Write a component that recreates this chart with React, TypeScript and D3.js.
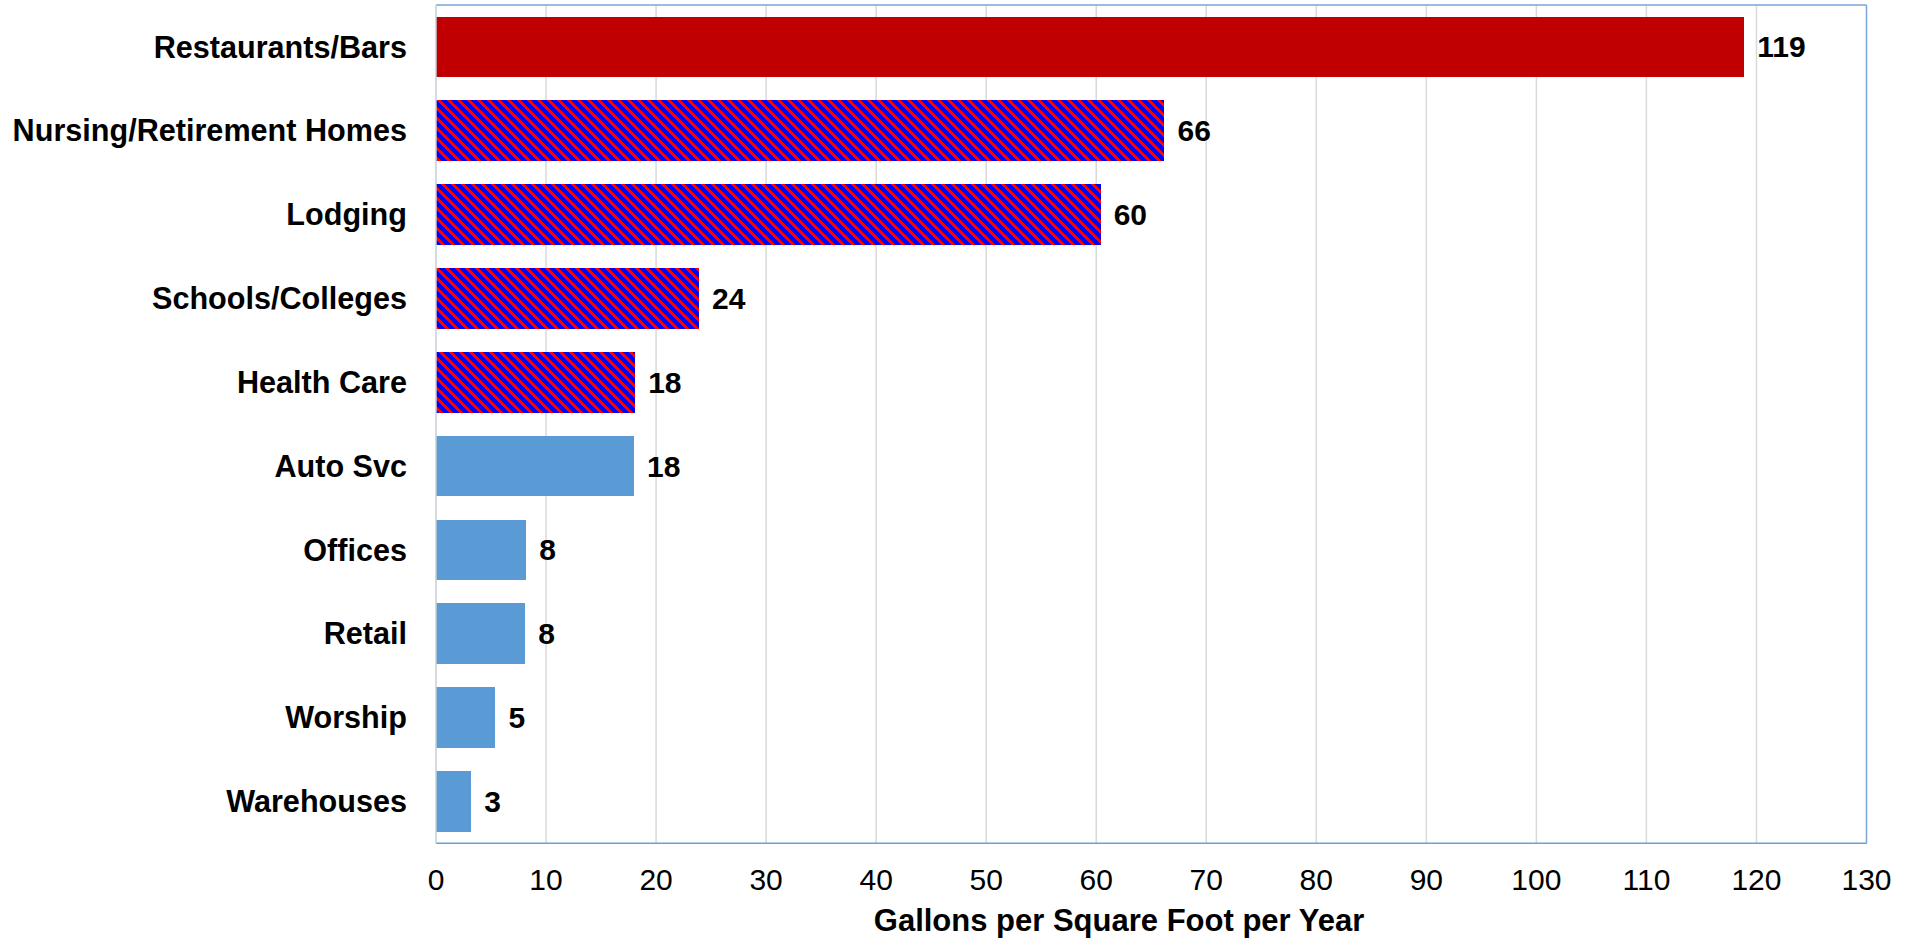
import React from "react";
import * as d3 from "d3";

const categories = [
  "Restaurants/Bars",
  "Nursing/Retirement Homes",
  "Lodging",
  "Schools/Colleges",
  "Health Care",
  "Auto Svc",
  "Offices",
  "Retail",
  "Worship",
  "Warehouses",
];
const values = [118.9, 66.2, 60.4, 23.9, 18.1, 18.0, 8.2, 8.1, 5.4, 3.2];
// fill style per bar: "solid" red, "hatch" red/blue stripes, "blue" light blue
const styles = ["solid", "hatch", "hatch", "hatch", "hatch", "blue", "blue", "blue", "blue", "blue"];
const xTicks = [0, 10, 20, 30, 40, 50, 60, 70, 80, 90, 100, 110, 120, 130];
const xTitle = "Gallons per Square Foot per Year";

const W = 1916;
const H = 945;
const M = { left: 436, right: 1866.5, top: 5, bottom: 843.3 };
const FONT = "Arial, 'Liberation Sans', sans-serif";
const T = 10; // hatch tile size
const R = 4; // red stripe horizontal width

export default function App() {
  const x = d3.scaleLinear().domain([0, 130]).range([M.left, M.right]);
  const y = d3
    .scaleBand<string>()
    .domain(categories)
    .range([M.top, M.bottom])
    .paddingInner(0.276)
    .paddingOuter(0.138);

  const fillFor = (s: string) =>
    s === "solid" ? "#c00000" : s === "hatch" ? "url(#hatch)" : "#5b9bd5";

  return (
    <svg
      width={W}
      height={H}
      style={{ position: "absolute", left: 0, top: 0, background: "#fff" }}
    >
      <defs>
        <pattern
          id="hatch"
          patternUnits="userSpaceOnUse"
          x={M.left}
          y={0}
          width={T}
          height={T}
        >
          <rect x={0} y={0} width={T} height={T} fill="#0000ff" shapeRendering="crispEdges" />
          <polygon
            points={`0,0 ${R},0 ${T},${T - R} ${T},${T}`}
            fill="#ff0000"
            shapeRendering="crispEdges"
          />
          <polygon
            points={`0,${T - R} ${R},${T} 0,${T}`}
            fill="#ff0000"
            shapeRendering="crispEdges"
          />
        </pattern>
      </defs>

      {/* gridlines */}
      {xTicks.slice(1, -1).map((t) => (
        <line
          key={"g" + t}
          x1={x(t)}
          x2={x(t)}
          y1={M.top}
          y2={M.bottom}
          stroke="#d9d9d9"
          strokeWidth={1.5}
        />
      ))}

      {/* bars */}
      {categories.map((c, i) => (
        <rect
          key={c}
          x={x(0)}
          y={y(c)}
          width={x(values[i]) - x(0)}
          height={y.bandwidth()}
          fill={fillFor(styles[i])}
          shapeRendering="crispEdges"
        />
      ))}

      {/* frame */}
      <line x1={M.left} x2={M.right} y1={M.top} y2={M.top} stroke="#7aa6d8" strokeWidth={1.5} />
      <line x1={M.right} x2={M.right} y1={M.top} y2={M.bottom} stroke="#7aa6d8" strokeWidth={1.5} />
      <line x1={M.left} x2={M.right} y1={M.bottom} y2={M.bottom} stroke="#6a9fd8" strokeWidth={1.5} />
      <line x1={M.left} x2={M.left} y1={M.top} y2={M.bottom} stroke="#c6ced8" strokeWidth={1.5} />

      {/* category labels */}
      {categories.map((c) => (
        <text
          key={"c" + c}
          x={M.left - 29}
          y={(y(c) as number) + y.bandwidth() / 2}
          dy="0.35em"
          textAnchor="end"
          fontFamily={FONT}
          fontWeight="bold"
          fontSize={30.6}
          fill="#000"
        >
          {c}
        </text>
      ))}

      {/* value labels */}
      {categories.map((c, i) => (
        <text
          key={"v" + c}
          x={x(values[i]) + 13}
          y={(y(c) as number) + y.bandwidth() / 2}
          dy="0.35em"
          textAnchor="start"
          fontFamily={FONT}
          fontWeight="bold"
          fontSize={30}
          fill="#000"
        >
          {Math.round(values[i])}
        </text>
      ))}

      {/* x tick labels */}
      {xTicks.map((t) => (
        <text
          key={"t" + t}
          x={x(t)}
          y={890}
          textAnchor="middle"
          fontFamily={FONT}
          fontSize={30}
          fill="#000"
        >
          {t}
        </text>
      ))}

      {/* axis title */}
      <text
        x={1119}
        y={931}
        textAnchor="middle"
        fontFamily={FONT}
        fontWeight="bold"
        fontSize={31}
        fill="#000"
      >
        {xTitle}
      </text>
    </svg>
  );
}
